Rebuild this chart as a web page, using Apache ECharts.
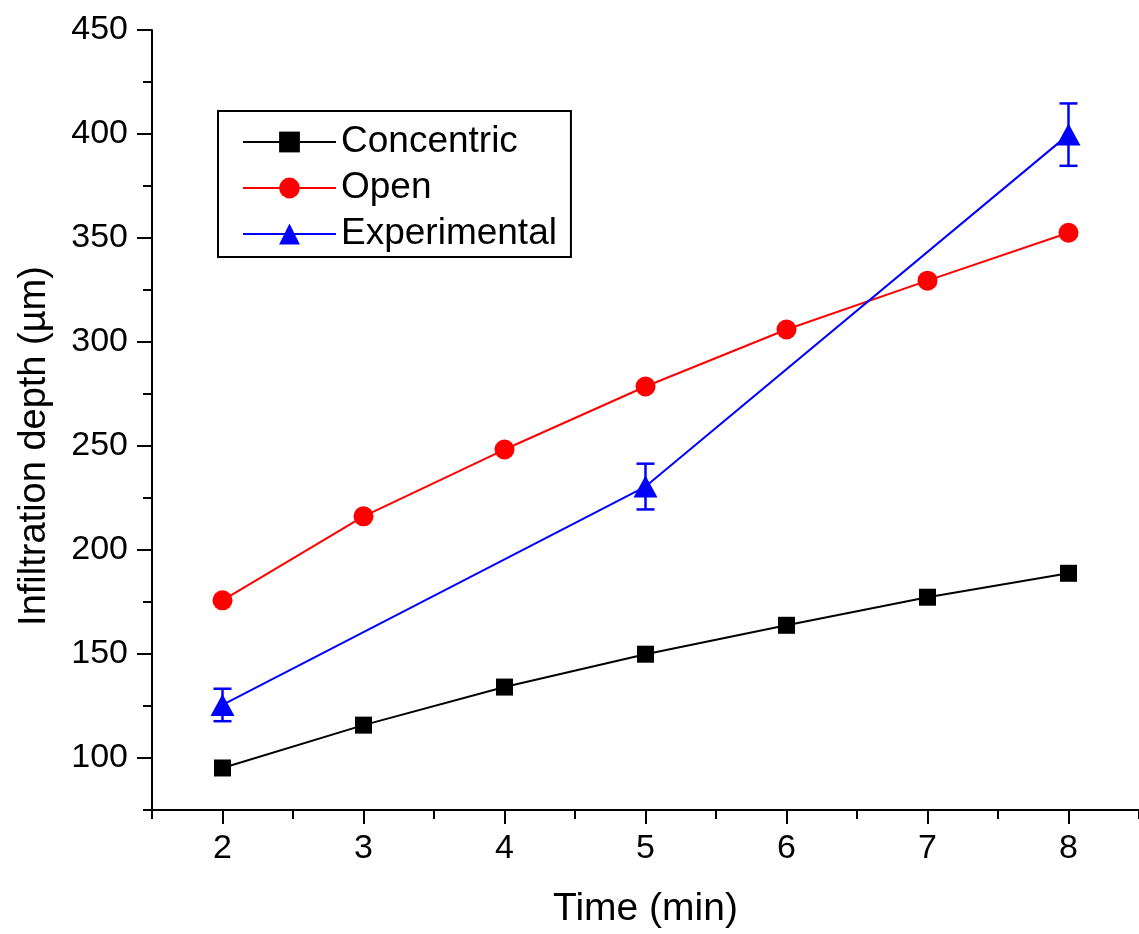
<!DOCTYPE html>
<html>
<head>
<meta charset="utf-8">
<script src="https://cdn.jsdelivr.net/npm/echarts/dist/echarts.min.js"></script>
<style>
html,body{margin:0;padding:0;background:#fff;}
#chart{width:1139px;height:934px;}
</style>
</head>
<body>
<div id="chart"></div>
<script>
// ---- data ----
var times = [2, 3, 4, 5, 6, 7, 8];
var concentric = [95.2, 115.8, 134.1, 149.9, 163.8, 177.3, 188.8];
var openVals = [175.8, 216.2, 248.3, 278.6, 306.0, 329.5, 352.5];
var expTimes = [2, 5, 8];
var experimental = [125.5, 230.5, 399.7];
var expErr = [7.8, 11, 15];
var xMajorTicks = [2, 3, 4, 5, 6, 7, 8];
var xMinorTicks = [1.5, 2.5, 3.5, 4.5, 5.5, 6.5, 7.5, 8.5];
var yMajorTicks = [100, 150, 200, 250, 300, 350, 400, 450];
var yMinorTicks = [75, 125, 175, 225, 275, 325, 375, 425];

function pairs(xs, ys) { return xs.map(function (x, i) { return [x, ys[i]]; }); }

var FONT = '"Liberation Sans", Arial, sans-serif';
var chart = echarts.init(document.getElementById('chart'));

var errData = expTimes.map(function (x, i) { return [x, experimental[i] - expErr[i], experimental[i] + expErr[i]]; });

chart.setOption({
  animation: false,
  backgroundColor: '#fff',
  grid: { left: 152, right: 0, top: 30, bottom: 123, containLabel: false },
  legend: {
    data: ['Concentric', 'Open', 'Experimental'],
    orient: 'vertical',
    left: 218, top: 111,
    padding: [12, 14, 4, 24],
    itemWidth: 93, itemHeight: 26, itemGap: 8,
    borderColor: '#000', borderWidth: 2, backgroundColor: '#fff',
    textStyle: { fontFamily: FONT, fontSize: 37, color: '#000', lineHeight: 38 }
  },
  xAxis: [{
    type: 'value', min: 1.5, max: 8.5, position: 'bottom',
    name: 'Time (min)', nameLocation: 'middle', nameGap: 80,
    nameTextStyle: { fontFamily: FONT, fontSize: 39, color: '#000' },
    axisLine: { show: true, lineStyle: { color: '#000', width: 2 } },
    axisTick: { show: true, inside: false, length: 14, customValues: xMajorTicks, lineStyle: { color: '#000', width: 2 } },
    axisLabel: { show: true, customValues: xMajorTicks, margin: 22, fontFamily: FONT, fontSize: 34, color: '#000' },
    splitLine: { show: false }
  }, {
    type: 'value', min: 1.5, max: 8.5, position: 'top', offset: -781,
    axisLine: { show: false },
    axisTick: { show: true, inside: true, length: 8, customValues: xMinorTicks, lineStyle: { color: '#000', width: 2 } },
    axisLabel: { show: false },
    splitLine: { show: false }
  }],
  yAxis: [{
    type: 'value', min: 75, max: 450, position: 'left',
    name: 'Infiltration depth (\u00b5m)', nameLocation: 'middle', nameGap: 98,
    nameTextStyle: { fontFamily: FONT, fontSize: 38, color: '#000', padding: [0, 52, 0, 0] },
    axisLine: { show: true, lineStyle: { color: '#000', width: 2 } },
    axisTick: { show: true, inside: false, length: 15, customValues: yMajorTicks, lineStyle: { color: '#000', width: 2 } },
    axisLabel: { show: true, customValues: yMajorTicks, margin: 24, fontFamily: FONT, fontSize: 34, color: '#000' },
    splitLine: { show: false }
  }, {
    type: 'value', min: 75, max: 450, position: 'right', offset: -987,
    axisLine: { show: false },
    axisTick: { show: true, inside: true, length: 9, customValues: yMinorTicks, lineStyle: { color: '#000', width: 2 } },
    axisLabel: { show: false },
    splitLine: { show: false }
  }],
  series: [{
    name: 'Concentric', type: 'line', data: pairs(times, concentric),
    symbol: 'rect', symbolSize: 17,
    lineStyle: { color: '#000', width: 2 }, itemStyle: { color: '#000' }
  }, {
    name: 'Open', type: 'line', data: pairs(times, openVals),
    symbol: 'circle', symbolSize: 20,
    lineStyle: { color: '#ff0000', width: 2 }, itemStyle: { color: '#ff0000' }
  }, {
    name: 'Experimental', type: 'line', data: pairs(expTimes, experimental),
    symbol: 'triangle', symbolSize: [24, 22],
    lineStyle: { color: '#0000ff', width: 2 }, itemStyle: { color: '#0000ff' }
  }, {
    name: 'ExpError', type: 'custom', data: errData, z: 3,
    renderItem: function (params, api) {
      var lo = api.coord([api.value(0), api.value(1)]);
      var hi = api.coord([api.value(0), api.value(2)]);
      var hw = 9;
      var st = { stroke: '#0000ff', lineWidth: 2.5 };
      return { type: 'group', children: [
        { type: 'line', shape: { x1: lo[0], y1: lo[1], x2: hi[0], y2: hi[1] }, style: st },
        { type: 'line', shape: { x1: lo[0] - hw, y1: lo[1], x2: lo[0] + hw, y2: lo[1] }, style: st },
        { type: 'line', shape: { x1: hi[0] - hw, y1: hi[1], x2: hi[0] + hw, y2: hi[1] }, style: st }
      ]};
    }
  }]
});
</script>
</body>
</html>
